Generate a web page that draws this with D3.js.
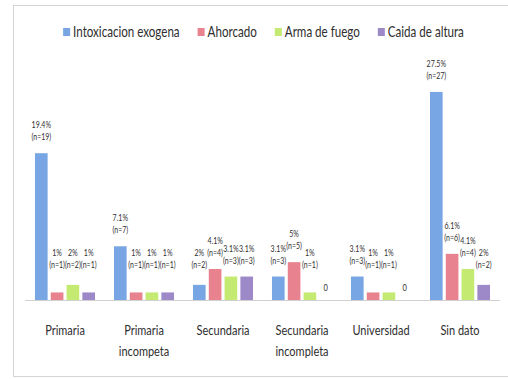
<!DOCTYPE html>
<html>
<head>
<meta charset="utf-8">
<script src="https://cdn.jsdelivr.net/npm/d3@7/dist/d3.min.js"></script>
<style>
  html, body { margin: 0; padding: 0; background: #fff; }
  svg { display: block; font-family: Lato, 'Open Sans', sans-serif; }
</style>
</head>
<body>
<svg id="chart" width="508" height="379"></svg>
<script>
// Education level categories
const categories = ["Primaria", "Primaria\nincompeta", "Secundaria", "Secundaria\nincompleta", "Universidad", "Sin dato"];
// Method series
const seriesNames = ["Intoxicacion exogena", "Ahorcado", "Arma de fuego", "Caida de altura"];
const seriesColors = ["#78a6e4", "#e9828f", "#c5ea72", "#9d89c8"];
// Percentages per series, one value per category
const intoxicacion = [19.4, 7.1, 2, 3.1, 3.1, 27.5];
const ahorcado     = [1, 1, 4.1, 5, 1, 6.1];
const armaFuego    = [2, 1, 3.1, 1, 1, 4.1];
const caidaAltura  = [1, 1, 3.1, 0, 0, 2];
// Case counts per series
const nIntoxicacion = [19, 7, 2, 3, 3, 27];
const nAhorcado     = [1, 1, 4, 5, 1, 6];
const nArmaFuego    = [2, 1, 3, 1, 1, 4];
const nCaidaAltura  = [1, 1, 3, 0, 0, 2];

const values = [intoxicacion, ahorcado, armaFuego, caidaAltura];
const counts = [nIntoxicacion, nAhorcado, nArmaFuego, nCaidaAltura];

const svg = d3.select("#chart");
const TEXT = "#2e2e2e";
const STRETCH = 1.3; // tall, narrow lettering

// text helper: centred on (x, y), drawn taller than wide
function addText(parent, x, y, str, size, anchor) {
  return parent.append("text")
    .attr("transform", `translate(${x},${y}) scale(1,${STRETCH})`)
    .attr("font-size", size)
    .attr("fill", TEXT)
    .attr("text-anchor", anchor || "middle")
    .attr("dy", "0.35em")
    .text(str);
}

// outer frame
svg.append("rect")
  .attr("x", 13.5).attr("y", 5.5)
  .attr("width", 520).attr("height", 371)
  .attr("fill", "none").attr("stroke", "#d4d4d4").attr("stroke-width", 1);

const x0 = d3.scaleBand().domain(categories).range([25.5, 499.5]).padding(0);
const x1 = d3.scaleBand().domain(seriesNames).range([0, x0.bandwidth()])
  .paddingInner(0.2).paddingOuter(0.6);
const y = d3.scaleLinear().domain([0, 30]).range([300, 73]);

// bars
const rows = [];
categories.forEach((c, ci) => {
  seriesNames.forEach((s, si) => {
    rows.push({ cat: c, series: s, si, v: values[si][ci], n: counts[si][ci] });
  });
});

svg.append("g").selectAll("rect").data(rows).join("rect")
  .attr("x", d => x0(d.cat) + x1(d.series))
  .attr("y", d => y(d.v))
  .attr("width", x1.bandwidth())
  .attr("height", d => y(0) - y(d.v))
  .attr("fill", d => seriesColors[d.si]);

// baseline
svg.append("line")
  .attr("x1", 25).attr("x2", 500)
  .attr("y1", y(0) + 0.5).attr("y2", y(0) + 0.5)
  .attr("stroke", "#d0d0d0").attr("stroke-width", 1);

// data labels: percentage over case count
const lbl = svg.append("g");
rows.forEach(d => {
  const cx = x0(d.cat) + x1(d.series) + x1.bandwidth() / 2;
  if (d.v === 0) {
    addText(lbl, cx, y(0) - 12, "0", 7.5);
    return;
  }
  const y2 = Math.min(y(d.v) - 16, 265);
  addText(lbl, cx, y2 - 12, d.v + "%", 7);
  addText(lbl, cx, y2, "(n=" + d.n + ")", 7);
});

// category axis labels
const cat = svg.append("g");
categories.forEach(c => {
  const cx = x0(c) + x0.bandwidth() / 2;
  c.split("\n").forEach((line, i) => addText(cat, cx, 330 + i * 21, line, 11));
});

// legend
const leg = svg.append("g");
const items = seriesNames.map((s, i) => {
  const g = leg.append("g");
  g.append("rect").attr("x", 0).attr("y", -4).attr("width", 7).attr("height", 8).attr("fill", seriesColors[i]);
  const t = addText(g, 10, 0, s, 11.6, "start");
  return { g, w: 10 + t.node().getComputedTextLength() };
});
const gap = 18;
const total = d3.sum(items, d => d.w) + gap * (items.length - 1);
let lx = 263.5 - total / 2;
items.forEach(it => {
  it.g.attr("transform", `translate(${lx},32)`);
  lx += it.w + gap;
});
</script>
</body>
</html>
